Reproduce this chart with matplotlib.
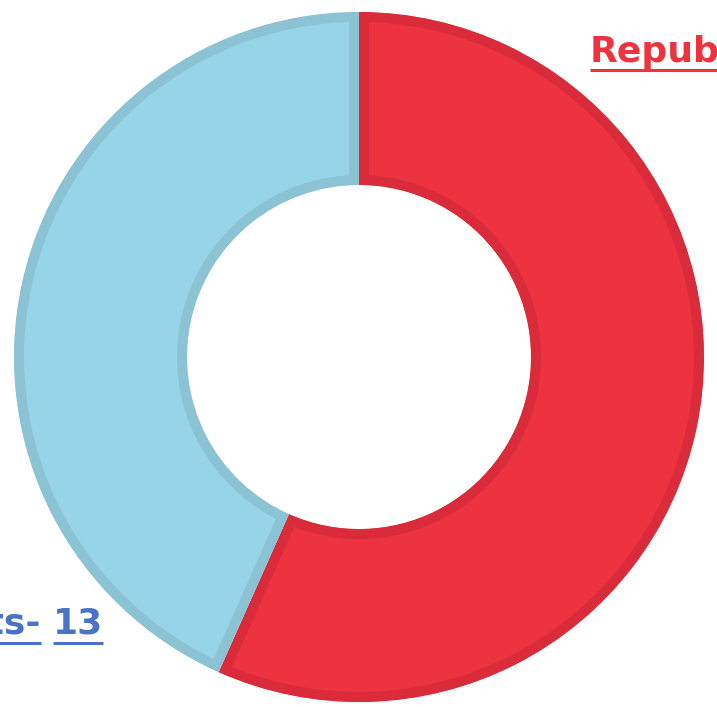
import matplotlib
matplotlib.use('Agg')
import matplotlib.pyplot as plt

# data
parties = ['Republicans', 'Democrats']
seats = [17, 13]
fill_colors = ['#EE3340', '#96D5E8']
edge_colors = ['#D92B3A', '#8BC3D4']
label_colors = ['#EE3340', '#4A72C6']

W, H = 717, 707
fig = plt.figure(figsize=(W / 100, H / 100), dpi=100)
ax = fig.add_axes([0, 0, 1, 1])

cx, cy = 359, H - 357
r_out, r_in = 345, 172
border = 10  # px

wedges, _ = ax.pie(seats, colors=fill_colors, startangle=90, counterclock=False,
                   center=(cx, cy), radius=r_out, frame=True,
                   wedgeprops=dict(width=r_out - r_in))
ax.set_xlim(0, W)
ax.set_ylim(0, H)
ax.set_aspect('equal')
ax.axis('off')

for w, ec in zip(wedges, edge_colors):
    w.set_edgecolor(ec)
    w.set_linewidth(2 * border * 0.72)  # outer half clipped -> inner border
    w.set_clip_on(True)
    w.set_clip_path(w)

font = dict(family=['DejaVu Sans'], fontweight='bold', fontsize=26)

fig.canvas.draw()
renderer = fig.canvas.get_renderer()
inv = ax.transData.inverted()


def xspan(t):
    bb = t.get_window_extent(renderer)
    (x0, _), (x1, _) = inv.transform([(bb.x0, bb.y0), (bb.x1, bb.y1)])
    return x0, x1


def underline(t, color, offset):
    x0, x1 = xspan(t)
    ax.plot([x0, x1], [t.get_position()[1] - offset] * 2, color=color, lw=2.2,
            solid_capstyle='butt')


# Republicans label, top right (runs off the figure)
y_rep = H - 62
t1 = ax.text(590, y_rep, f'{parties[0]}-', color=label_colors[0],
             ha='left', va='baseline', **font)
t2 = ax.text(xspan(t1)[1] + 10, y_rep, str(seats[0]), color=label_colors[0],
             ha='left', va='baseline', **font)

# Democrats label, bottom left (runs off the figure)
y_dem = H - 633
t3 = ax.text(103, y_dem, str(seats[1]), color=label_colors[1],
             ha='right', va='baseline', **font)
fig.canvas.draw()
t4 = ax.text(xspan(t3)[0] - 12, y_dem, f'{parties[1]}-', color=label_colors[1],
             ha='right', va='baseline', **font)
fig.canvas.draw()

underline(t1, label_colors[0], 8)
underline(t2, label_colors[0], 8)
underline(t3, label_colors[1], 10)
underline(t4, label_colors[1], 10)

fig.savefig('out.png', dpi=100)
